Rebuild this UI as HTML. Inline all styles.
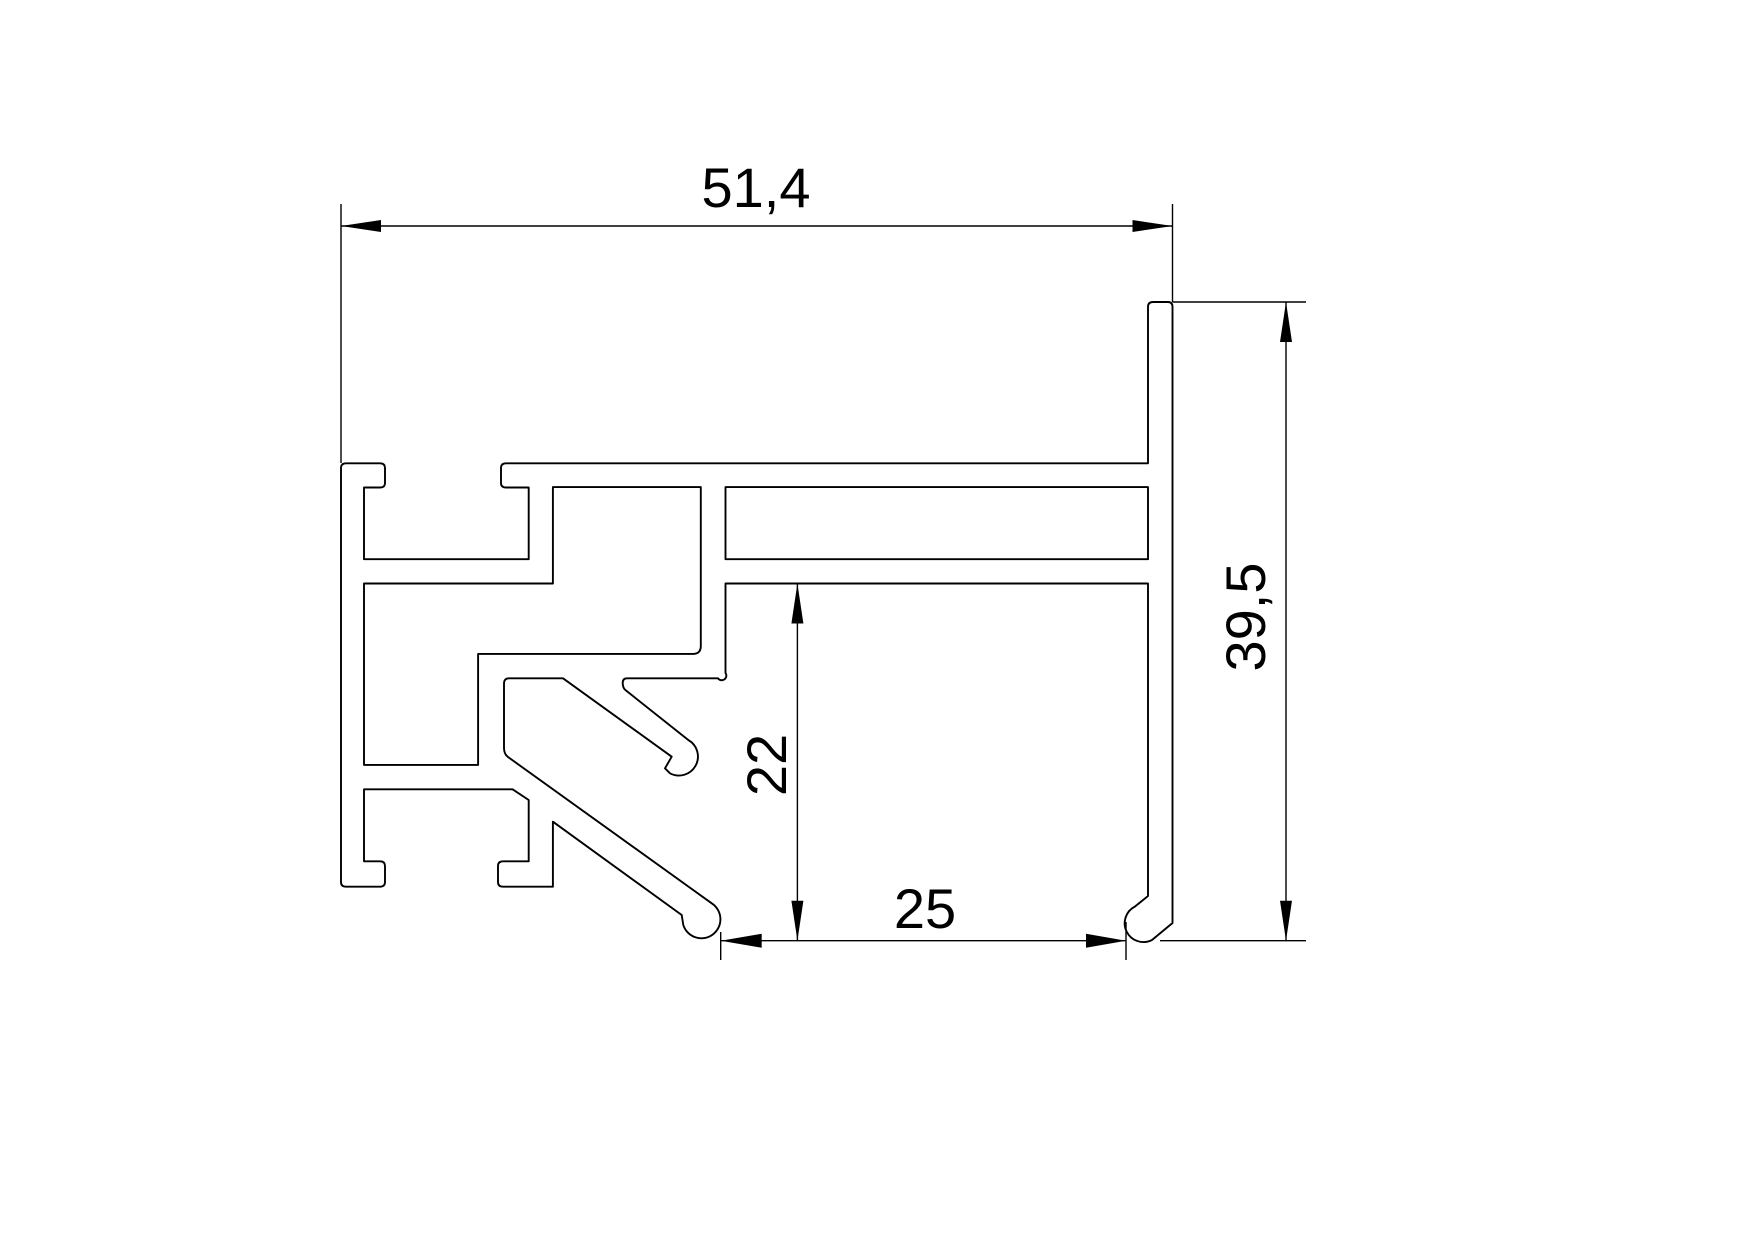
<!DOCTYPE html>
<html><head><meta charset="utf-8"><style>html,body{margin:0;padding:0;background:#fff}svg{display:block}</style></head>
<body>
<svg width="1755" height="1240" viewBox="0 0 1755 1240" xmlns="http://www.w3.org/2000/svg">
<rect width="1755" height="1240" fill="#fff"/>
<g fill="none" stroke="#000" stroke-width="1.9" stroke-linejoin="round">
<path d="M341,882 V468 Q341,463.3 346,463.3 H380 Q385,463.3 385,468 V483 Q385,487.5 380,487.5 H364 V559.2 H528.7 V487.5 H506 Q501,487.5 501,483 V468 Q501,463.3 506,463.3 H1148 V307 Q1148,302 1153,302 H1168 Q1172.5,302 1172.5,307 V923 L1152,940 A18,18 0 1 1 1135,906.5 L1148,896 V583.5 H725.5 V673 A4,4 0 0 1 718,678.3 H627 Q622.7,678.3 622.7,683 Q622.7,688.3 626,690.5 L688.3,740 A19,19 0 0 1 670,773.3 L665,768.3 L671.7,756.7 L563,678.3 H509 Q504,678.3 504,683.7 V748 Q504,754 508,757 L711.7,903.3 A19,19 0 1 1 683.3,925 L681.7,915 L552.9,821.7 V886.7 H503 Q498,886.7 498,882 V866 Q498,861.3 503,861.3 H528.7 V800 L512.6,789.3 H364 V861.3 H380 Q385,861.3 385,866 V882 Q385,886.7 380,886.7 H346 Q341,886.7 341,882 Z"/>
<path d="M364,583.5 H552.9 V487.1 H700.8 V646 Q700.8,653.9 693,653.9 H478.1 V764.9 H364 Z"/>
<path d="M725.5,487.1 H1148 V559.2 H725.5 Z"/>
</g>
<g stroke="#000" stroke-width="1.4" fill="none">
<path d="M341,204 V463 M1172.5,204 V302 M341,226 H1172.5"/>
<path d="M1172.5,302 H1306 M1160,940.7 H1306 M1286,302 V940.7"/>
<path d="M797.4,583.5 V940.7"/>
<path d="M720.7,940.7 H1126 M720.7,932 V960 M1126,922 V960"/>
</g>
<g fill="#000">
<polygon points="341,226 381,220 381,232"/>
<polygon points="1172.5,226 1132.5,220 1132.5,232"/>
<polygon points="1286,302 1280,342 1292,342"/>
<polygon points="1286,940.7 1280,900.7 1292,900.7"/>
<polygon points="797.4,583.5 791.4,623.5 803.4,623.5"/>
<polygon points="797.4,940.7 791.4,900.7 803.4,900.7"/>
<polygon points="720.7,940.7 761.7,933.7 761.7,947.7"/>
<polygon points="1126,940.7 1086,933.7 1086,947.7"/>
</g>
<g font-family="Liberation Sans, Arial, sans-serif" font-size="56" fill="#000" text-anchor="middle">
<text x="756" y="207">51,4</text>
<text x="925" y="928">25</text>
<text transform="translate(786,765) rotate(-90)">22</text>
<text transform="translate(1265,617) rotate(-90)">39,5</text>
</g>
</svg>
</body></html>
